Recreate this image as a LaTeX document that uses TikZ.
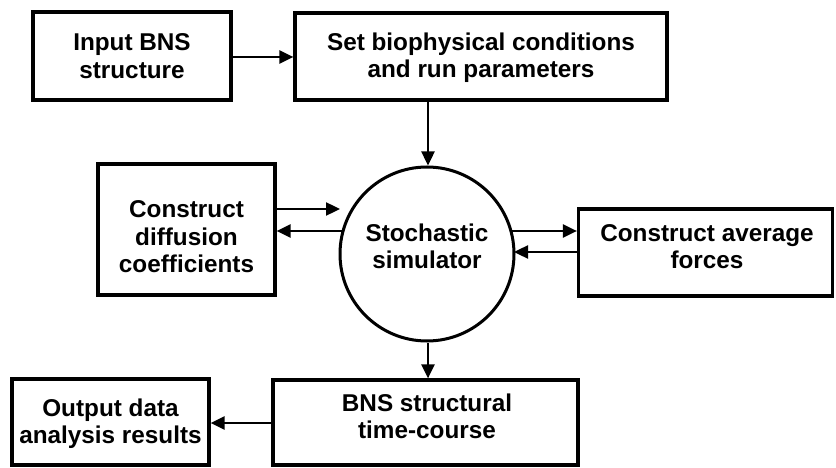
\documentclass[tikz,border=0pt]{standalone}
\usepackage{fontspec}
\setmainfont{Liberation Sans}
\usetikzlibrary{arrows.meta}
\begin{document}
\begin{tikzpicture}[x=1pt,y=-1pt,
  every node/.style={font=\fontsize{24.3}{27.5}\selectfont\bfseries, align=center, inner sep=0pt},
  box/.style={draw, line width=3.2pt, rectangle},
  circ/.style={draw, line width=3pt, circle, minimum size=174pt},
  conn/.style={line width=2.4pt, -{Triangle[length=14pt,width=13pt]}}]
\useasboundingbox (0,0) rectangle (836,468);
\node[box, minimum width=198pt, minimum height=88pt] (b1) at (132,56) {};
\node (b1t) at (132,56) {Input BNS\\structure};
\node[box, minimum width=372pt, minimum height=87pt] (b2) at (481,56.5) {};
\node (b2t) at (481,57.5) {Set biophysical conditions\\and run parameters};
\node[box, minimum width=177pt, minimum height=131pt] (diff) at (186.5,229.5) {};
\node (difft) at (186.5,237) {Construct\\diffusion\\coefficients};
\node[box, minimum width=254pt, minimum height=87pt] (forces) at (705.5,252.5) {};
\node (forcest) at (707,246.5) {Construct average\\forces};
\node[circ] (sim) at (427,254) {};
\node (simt) at (427,246.5) {Stochastic\\simulator};
\node[box, minimum width=305pt, minimum height=85pt] (bns) at (425.5,422.5) {};
\node (bnst) at (427,416.5) {BNS structural\\time-course};
\node[box, minimum width=197pt, minimum height=86pt] (out) at (110.5,422) {};
\node (outt) at (110.5,423.5) {Output data\\analysis results};
\coordinate (dtip) at (340,209);
\coordinate (dret) at (343,231);
\coordinate (fout) at (511,231);
\coordinate (ftip) at (514,252);
\draw[conn] (b1.east |- 0,57) -- (b2.west |- 0,57);
\draw[conn] (b2.south -| 428,0) -- (sim.north -| 428,0);
\draw[conn] (diff.east |- dtip) -- (dtip);
\draw[conn] (dret) -- (diff.east |- dret);
\draw[conn] (fout) -- (forces.west |- fout);
\draw[conn] (forces.west |- ftip) -- (ftip);
\draw[conn] (sim.south -| 428,0) -- (bns.north -| 428,0);
\draw[conn] (bns.west |- 0,423) -- (out.east |- 0,423);
\end{tikzpicture}
\end{document}
